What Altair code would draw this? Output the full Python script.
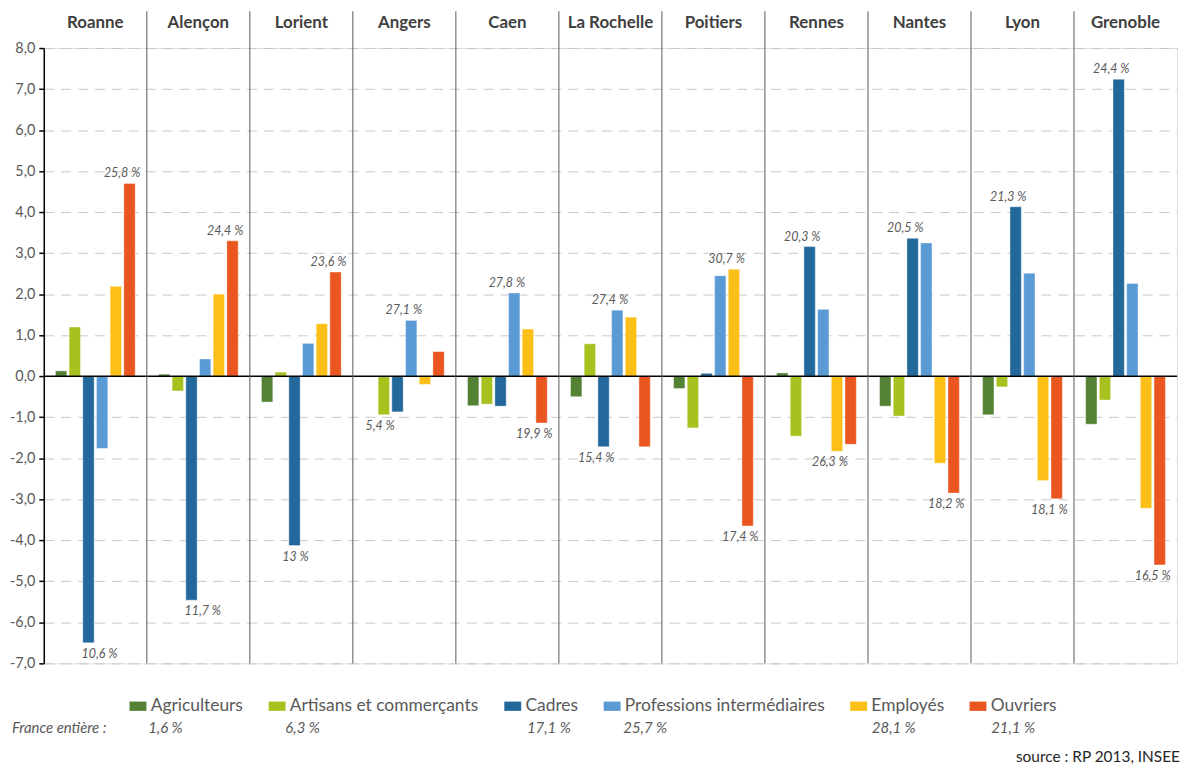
import altair as alt
import pandas as pd

# ---------------- data ----------------
cities = ["Roanne", "Alençon", "Lorient", "Angers", "Caen", "La Rochelle",
          "Poitiers", "Rennes", "Nantes", "Lyon", "Grenoble"]
categories = ["Agriculteurs", "Artisans et commerçants", "Cadres",
              "Professions intermédiaires", "Employés", "Ouvriers"]

agriculteurs = [0.13, 0.05, -0.63, 0.0, -0.72, -0.50, -0.30, 0.08, -0.73, -0.94, -1.17]
artisans = [1.20, -0.36, 0.10, -0.94, -0.68, 0.79, -1.26, -1.46, -0.97, -0.26, -0.58]
cadres = [-6.50, -5.46, -4.13, -0.87, -0.73, -1.72, 0.07, 3.16, 3.36, 4.13, 7.24]
prof_inter = [-1.76, 0.42, 0.80, 1.36, 2.03, 1.61, 2.45, 1.63, 3.25, 2.51, 2.26]
employes = [2.19, 2.00, 1.28, -0.20, 1.15, 1.44, 2.61, -1.83, -2.12, -2.54, -3.22]
ouvriers = [4.70, 3.30, 2.54, 0.60, -1.14, -1.72, -3.65, -1.66, -2.85, -2.99, -4.60]
series = [agriculteurs, artisans, cadres, prof_inter, employes, ouvriers]

lab_city = ["Roanne", "Roanne", "Alençon", "Alençon", "Lorient", "Lorient",
            "Angers", "Angers", "Caen", "Caen", "La Rochelle", "La Rochelle",
            "Poitiers", "Poitiers", "Rennes", "Rennes", "Nantes", "Nantes",
            "Lyon", "Lyon", "Grenoble", "Grenoble"]
lab_cat = ["Ouvriers", "Cadres", "Ouvriers", "Cadres", "Ouvriers", "Cadres",
           "Professions intermédiaires", "Artisans et commerçants",
           "Professions intermédiaires", "Ouvriers",
           "Professions intermédiaires", "Cadres",
           "Employés", "Ouvriers", "Cadres", "Employés", "Cadres", "Ouvriers",
           "Cadres", "Ouvriers", "Cadres", "Ouvriers"]
lab_text = ["25,8 %", "10,6 %", "24,4 %", "11,7 %", "23,6 %", "13 %",
            "27,1 %", "5,4 %", "27,8 %", "19,9 %", "27,4 %", "15,4 %",
            "30,7 %", "17,4 %", "20,3 %", "26,3 %", "20,5 %", "18,2 %",
            "21,3 %", "18,1 %", "24,4 %", "16,5 %"]
# label anchoring style: r = right-aligned past bar, l = left-aligned, c = centred
lab_anchor = ["r", "l", "r", "l", "r", "c", "r", "r", "r", "r", "r", "r",
              "r", "r", "r", "r", "r", "r", "r", "r", "r", "r"]

france_label = "France entière :"
france_values = ["1,6 %", "6,3 %", "17,1 %", "25,7 %", "28,1 %", "21,1 %"]
source_text = "source : RP 2013, INSEE"

# ---------------- styles ----------------
colors = ["#548235", "#A9C11F", "#23689A", "#5B9BD5", "#FCBF17", "#E9561F"]
FONT = "Lato"
W, H = 1140, 619
france_px = [-32, 105, 243, 486, 583, 833, 953]
france_py = 684
source_py = 713

rows = []
for cat, vals in zip(categories, series):
    for c, v in zip(cities, vals):
        rows.append({"city": c, "cat": cat, "value": v})
bars_df = pd.DataFrame(rows)

lab_df = pd.DataFrame({"city": lab_city, "cat": lab_cat, "text": lab_text,
                       "anchor": lab_anchor})
lab_df = lab_df.merge(bars_df, on=["city", "cat"], how="left")

label_expr = ("(datum.value < 0 ? '-' : '') + "
              "replace(format(abs(datum.value), '.1f'), '.', ',')")

x_main = alt.X(
    "city:N", sort=cities, title=None,
    scale=alt.Scale(paddingInner=0, paddingOuter=0),
    axis=alt.Axis(orient="top", domain=False, ticks=False, tickSize=0, grid=False,
                  labelAngle=0, labelPadding=17, labelFontSize=17,
                  labelFontWeight="bold", labelColor="#404040", labelFont=FONT,
                  minExtent=36, maxExtent=36),
)
xoff = alt.XOffset("cat:N", sort=categories,
                   scale=alt.Scale(paddingInner=0.17, paddingOuter=0.85))
y_main = alt.Y(
    "value:Q", title=None,
    scale=alt.Scale(domain=[-7, 8], nice=False, zero=False),
    axis=alt.Axis(values=list(range(-7, 9)), labelExpr=label_expr, grid=True,
                  gridDash=[10, 7], gridColor="#C8C8C8", gridWidth=1,
                  domainColor="#000000", domainWidth=1.5, tickColor="#000000",
                  tickSize=5, tickWidth=1.5, labelFontSize=14.5, labelColor="#595959",
                  labelFont=FONT, labelPadding=4, minExtent=36, maxExtent=36),
)
color = alt.Color(
    "cat:N", sort=categories,
    scale=alt.Scale(domain=categories, range=colors),
    legend=alt.Legend(title=None, orient="none", legendX=86, legendY=653,
                      direction="horizontal",
                      symbolType="M-1,-0.55L1,-0.55L1,0.55L-1,0.55Z",
                      symbolSize=289, symbolStrokeWidth=0, symbolOpacity=1,
                      labelFontSize=17.5, labelFont=FONT, labelColor="#595959",
                      labelOffset=4, columnPadding=25, labelLimit=400),
)

bars = alt.Chart(bars_df).mark_bar(stroke="#ffffff", strokeWidth=0.4).encode(
    x=x_main, xOffset=xoff, y=y_main, color=color
)

zero = alt.Chart(pd.DataFrame({"a": [0]})).mark_rule(
    color="#000000", strokeWidth=1.5
).encode(y=alt.datum(0))

seps = alt.Chart(pd.DataFrame({"city": cities[1:]})).mark_rule(
    color="#5A5A5A", strokeWidth=1
).encode(
    x=alt.X("city:N", sort=cities, bandPosition=0),
    y=alt.value(-37), y2=alt.value(H),
)

layers = [bars, zero, seps]

align_map = {"r": ("right", 11), "l": ("left", -7), "c": ("center", 1)}
for anc, (align, dx) in align_map.items():
    for positive in (True, False):
        sub = lab_df[(lab_df["anchor"] == anc) & ((lab_df["value"] > 0) == positive)]
        if len(sub) == 0:
            continue
        layers.append(
            alt.Chart(sub).mark_text(
                align=align, baseline="middle", dx=dx, dy=-10 if positive else 11,
                fontSize=12.5, fontStyle="italic", font=FONT, color="#595959"
            ).encode(
                x=alt.X("city:N", sort=cities),
                xOffset=alt.XOffset("cat:N", sort=categories),
                y=alt.Y("value:Q"),
                text="text:N",
            )
        )

for txt, px in zip([france_label] + france_values, france_px):
    layers.append(
        alt.Chart(pd.DataFrame({"t": [txt]})).mark_text(
            align="left", baseline="middle", fontSize=15, fontStyle="italic",
            font=FONT, color="#595959"
        ).encode(text="t:N", x=alt.value(px), y=alt.value(france_py))
    )

layers.append(
    alt.Chart(pd.DataFrame({"t": [source_text]})).mark_text(
        align="right", baseline="middle", fontSize=15.5, font=FONT, color="#262626"
    ).encode(text="t:N", x=alt.value(W + 3), y=alt.value(source_py))
)

chart = alt.layer(*layers).properties(
    width=W, height=H,
    padding={"left": 0, "top": 0, "right": 0, "bottom": 0},
).configure_view(stroke=None).configure(font=FONT)

chart.save("out.html", embed_options={"renderer": "svg", "actions": False})
